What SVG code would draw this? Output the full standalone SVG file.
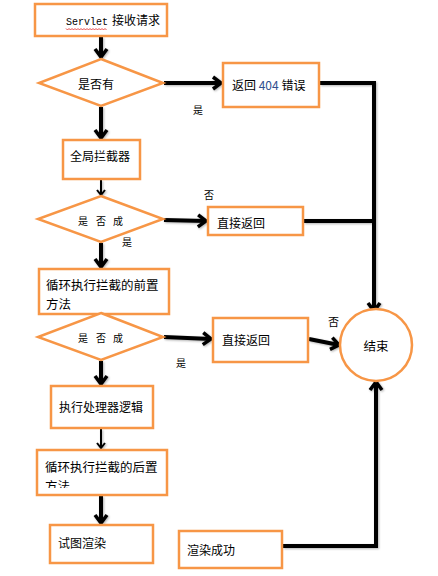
<svg xmlns="http://www.w3.org/2000/svg" width="438" height="576" viewBox="0 0 438 576">
<style>
.box{fill:#fff;stroke:#F79646;stroke-width:2.5}
.t{font-family:"Noto Sans CJK SC","Noto Sans",sans-serif;font-size:12px;fill:#000}
.s{font-family:"Noto Sans CJK SC","Noto Sans",sans-serif;font-size:10px;fill:#000}
.thick{fill:none;stroke:#000;stroke-width:4}
.thin{fill:none;stroke:#000;stroke-width:2}
</style>
<defs>
<marker id="ah" markerUnits="userSpaceOnUse" orient="auto" refX="0" refY="0" markerWidth="20" markerHeight="20" viewBox="-12 -10 14 20" overflow="visible">
<path d="M-8,-6 L0,0 L-8,6" fill="none" stroke="#000" stroke-width="3.5" stroke-linejoin="miter"/>
</marker>
<marker id="ahs" markerUnits="userSpaceOnUse" orient="auto" refX="0" refY="0" markerWidth="12" markerHeight="12" viewBox="-8 -6 10 12" overflow="visible">
<path d="M-5,-4 L0,0 L-5,4" fill="none" stroke="#000" stroke-width="2"/>
</marker>
<filter id="sh" x="-20%" y="-20%" width="140%" height="140%">
<feDropShadow dx="1" dy="1" stdDeviation="0.8" flood-color="#000" flood-opacity="0.3"/>
</filter>
<clipPath id="clip5"><rect x="37" y="450" width="130" height="38"/></clipPath>
</defs>

<g id="connectors" filter="url(#sh)">
<line class="thick" x1="101" y1="37" x2="101" y2="57" marker-end="url(#ah)"/>
<line class="thick" x1="164" y1="83" x2="221" y2="83" marker-end="url(#ah)"/>
<polyline class="thick" points="320,83 374,83 374,311" marker-end="url(#ah)"/>
<line class="thick" x1="101" y1="107" x2="101" y2="138" marker-end="url(#ah)"/>
<line class="thin" x1="101" y1="180" x2="101" y2="195" marker-end="url(#ahs)"/>
<line class="thick" x1="164" y1="220" x2="206" y2="221" marker-end="url(#ah)"/>
<line class="thick" x1="304" y1="221" x2="374" y2="221"/>
<line class="thick" x1="101" y1="243" x2="101" y2="267" marker-end="url(#ah)"/>
<line class="thin" x1="101" y1="299" x2="101" y2="312" marker-end="url(#ahs)"/>
<line class="thick" x1="164" y1="337" x2="211" y2="339" marker-end="url(#ah)"/>
<line class="thick" x1="309" y1="339" x2="339" y2="345" marker-end="url(#ah)"/>
<line class="thick" x1="101" y1="361" x2="101" y2="384" marker-end="url(#ah)"/>
<line class="thin" x1="101" y1="429" x2="101" y2="448" marker-end="url(#ahs)"/>
<line class="thick" x1="101" y1="496" x2="101" y2="523" marker-end="url(#ah)"/>
<polyline class="thick" points="283,546 376,546 376,382" marker-end="url(#ah)"/>
</g>

<g id="n1">
<rect class="box" x="35" y="4" width="132" height="32"/>
<text x="66" y="25"><tspan font-family="'Liberation Mono',monospace" font-size="10px">Servlet</tspan><tspan class="t" dx="4">接收请求</tspan></text>
<path d="M66,28.5 l1.5,1.5 l1.5,-1.5 l1.5,1.5 l1.5,-1.5 l1.5,1.5 l1.5,-1.5 l1.5,1.5 l1.5,-1.5 l1.5,1.5 l1.5,-1.5 l1.5,1.5 l1.5,-1.5 l1.5,1.5 l1.5,-1.5 l1.5,1.5 l1.5,-1.5 l1.5,1.5 l1.5,-1.5 l1.5,1.5 l1.5,-1.5 l1.5,1.5 l1.5,-1.5 l1.5,1.5 l1.5,-1.5 l1.5,1.5 l1.5,-1.5 l1.5,1.5" fill="none" stroke="#e02020" stroke-width="0.8"/>
</g>

<g id="d1">
<polygon class="box" points="101,59 163,83 101,106 39,83"/>
<text class="t" x="78" y="89">是否有</text>
</g>

<g id="n404">
<rect class="box" x="223" y="63" width="96" height="44"/>
<text class="t" x="232" y="90">返回 <tspan fill="#2f4f8f">404</tspan> 错误</text>
</g>
<text class="s" x="193" y="114" fill="#1f3864">是</text>

<g id="n2">
<rect class="box" x="63" y="140" width="77" height="39"/>
<text class="t" x="70" y="161">全局拦截器</text>
</g>

<text class="s" x="204" y="199">否</text>

<g id="d2">
<polygon class="box" points="101,196 163,219 101,242 38,219"/>
<text class="s" x="78" y="225">是</text>
<text class="s" x="96" y="225">否</text>
<text class="s" x="113" y="225">成</text>
</g>
<text class="s" x="122" y="246">是</text>

<g id="nr1">
<rect class="box" x="208" y="207" width="95" height="28"/>
<text class="t" x="217" y="228">直接返回</text>
</g>

<g id="n3">
<rect class="box" x="39" y="269" width="130" height="45"/>
<text class="t" x="46" y="290" style="font-size:12.5px">循环执行拦截的前置</text>
<text class="t" x="46" y="309" style="font-size:12.5px">方法</text>
</g>

<g id="d3">
<polygon class="box" points="101,313 163,337 101,360 38,337"/>
<text class="s" x="78" y="342">是</text>
<text class="s" x="96" y="342">否</text>
<text class="s" x="113" y="342">成</text>
</g>
<text class="s" x="176" y="367">是</text>

<g id="nr2">
<rect class="box" x="213" y="318" width="95" height="44"/>
<text class="t" x="222" y="345">直接返回</text>
</g>
<text class="s" x="328" y="326" style="font-size:11px">否</text>

<g id="end">
<circle class="box" cx="376" cy="345" r="36"/>
<text class="t" x="376" y="351" text-anchor="middle" style="font-size:12.5px">结束</text>
</g>

<g id="n4">
<rect class="box" x="51" y="386" width="102" height="42"/>
<text class="t" x="59" y="412">执行处理器逻辑</text>
</g>

<g id="n5">
<rect class="box" x="37" y="450" width="130" height="45"/>
<text class="t" x="45" y="472" style="font-size:12.5px">循环执行拦截的后置</text>
<text class="t" x="45" y="491" style="font-size:12.5px" clip-path="url(#clip5)">方法</text>
</g>

<g id="n6">
<rect class="box" x="50" y="525" width="103" height="38"/>
<text class="t" x="58" y="548">试图渲染</text>
</g>

<g id="n7">
<rect class="box" x="179" y="531" width="103" height="37"/>
<text class="t" x="187" y="555">渲染成功</text>
</g>
</svg>
